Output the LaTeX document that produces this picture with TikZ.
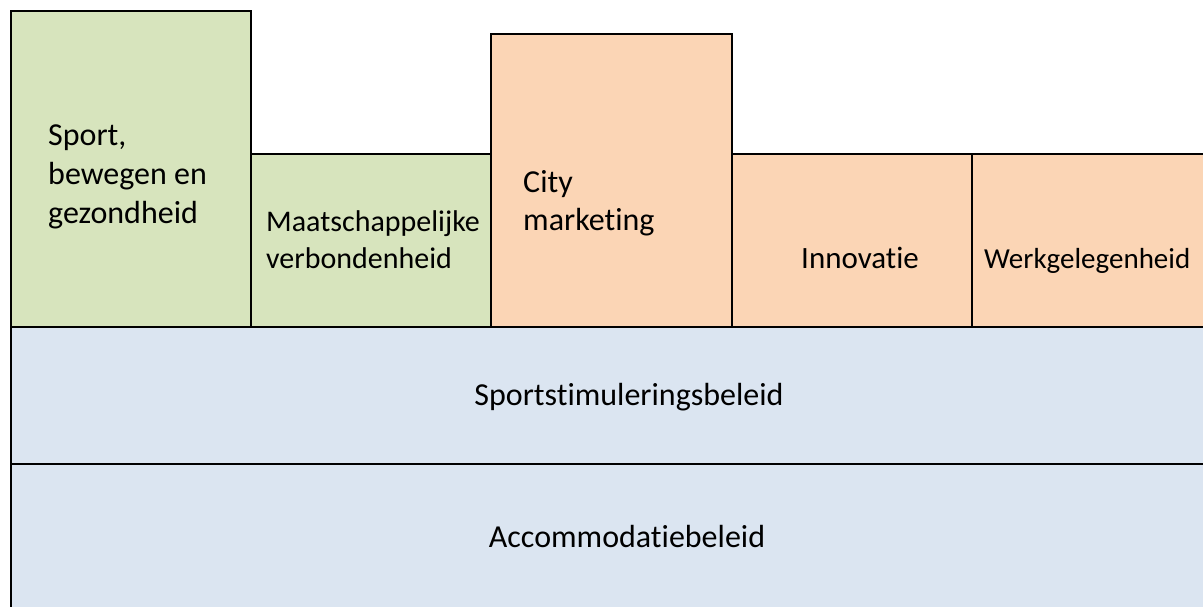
\documentclass[tikz,border=0pt]{standalone}
\usepackage{fontspec}
\setmainfont{Carlito}[Ligatures=NoCommon]
\usetikzlibrary{positioning}
\definecolor{sportgreen}{HTML}{D7E4BD}
\definecolor{cityorange}{HTML}{FBD5B5}
\definecolor{beleidblue}{HTML}{DBE5F1}
\tikzset{
  pillar/.style={draw=black, line width=1.6pt, rectangle, inner sep=0pt, anchor=north west},
  pillartext/.style={inner sep=0pt, anchor=base west, align=left, font=\fontsize{32}{39}\selectfont}
}

\begin{document}
\begin{tikzpicture}[x=1pt, y=-1pt]
    \useasboundingbox (0,0) rectangle (1203,607);
    %% bottom layers
    \node[pillar, fill=beleidblue, minimum width=1200pt, minimum height=137pt] (stimulering) at (10,326) {};
    \node[pillar, fill=beleidblue, minimum width=1200pt, minimum height=150pt] (accommodatie) at (10,463) {};
    %% top row
    \node[pillar, fill=sportgreen, minimum width=240pt, minimum height=316pt] (sport) at (10,10) {};
    \node[pillar, fill=sportgreen, minimum width=240pt, minimum height=173pt] (verbonden) at (250,153) {};
    \node[pillar, fill=cityorange, minimum width=241pt, minimum height=293pt] (city) at (490,33) {};
    \node[pillar, fill=cityorange, minimum width=240pt, minimum height=173pt] (innovatie) at (731,153) {};
    \node[pillar, fill=cityorange, minimum width=239pt, minimum height=173pt] (werk) at (971,153) {};

    %% texts (base = last line)
    \node[pillartext] (sporttxt) at (48,223) {Sport,\\bewegen en\\gezondheid};
    \node[pillartext, font=\fontsize{30}{36}\selectfont] (verbondentxt) at (266,268) {Maatschappelijke\\verbondenheid};
    \node[pillartext, font=\fontsize{32}{38}\selectfont] (citytxt) at (523,230) {City\\marketing};
    \node[pillartext, font=\fontsize{31}{38}\selectfont] (innovatietxt) at (801,269) {Innovatie};
    \node[pillartext, font=\fontsize{29}{36}\selectfont] (werktxt) at (984,269) {Werkgelegenheid};
    \node[pillartext, anchor=base] (stimuleringtxt) at (629,405) {Sportstimuleringsbeleid};
    \node[pillartext, anchor=base] (accommodatietxt) at (627,547) {Accommodatiebeleid};
\end{tikzpicture}
\end{document}
